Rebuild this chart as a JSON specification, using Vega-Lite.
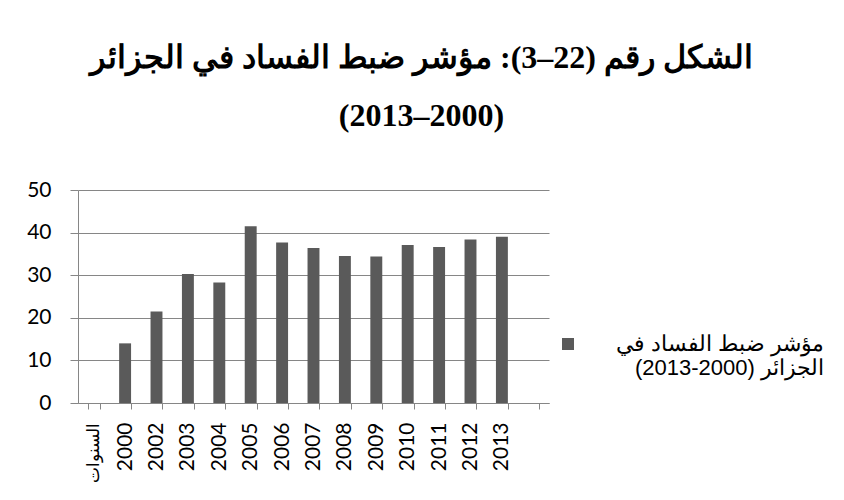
{
  "$schema": "https://vega.github.io/schema/vega-lite/v6.json",
  "width": 471,
  "height": 213,
  "autosize": {"type": "none"},
  "padding": {"left": 78, "top": 190, "right": 295, "bottom": 97},
  "background": "white",
  "title": {
    "text": ["\u202bالشكل رقم (22–3): مؤشر ضبط الفساد في الجزائر\u202c", "\u202b(2000–2013)\u202c"],
    "anchor": "middle",
    "frame": "group",
    "dx": 108,
    "font": "Liberation Serif",
    "fontSize": 32,
    "fontWeight": "bold",
    "lineHeight": 58,
    "offset": 46,
    "color": "#000000"
  },
  "data": {
    "values": [
      {"year": "2000", "value": 14.0, "series": "مؤشر ضبط الفساد في الجزائر (2000-2013)"},
      {"year": "2002", "value": 21.5, "series": "مؤشر ضبط الفساد في الجزائر (2000-2013)"},
      {"year": "2003", "value": 30.3, "series": "مؤشر ضبط الفساد في الجزائر (2000-2013)"},
      {"year": "2004", "value": 28.3, "series": "مؤشر ضبط الفساد في الجزائر (2000-2013)"},
      {"year": "2005", "value": 41.5, "series": "مؤشر ضبط الفساد في الجزائر (2000-2013)"},
      {"year": "2006", "value": 37.7, "series": "مؤشر ضبط الفساد في الجزائر (2000-2013)"},
      {"year": "2007", "value": 36.4, "series": "مؤشر ضبط الفساد في الجزائر (2000-2013)"},
      {"year": "2008", "value": 34.5, "series": "مؤشر ضبط الفساد في الجزائر (2000-2013)"},
      {"year": "2009", "value": 34.4, "series": "مؤشر ضبط الفساد في الجزائر (2000-2013)"},
      {"year": "2010", "value": 37.1, "series": "مؤشر ضبط الفساد في الجزائر (2000-2013)"},
      {"year": "2011", "value": 36.6, "series": "مؤشر ضبط الفساد في الجزائر (2000-2013)"},
      {"year": "2012", "value": 38.4, "series": "مؤشر ضبط الفساد في الجزائر (2000-2013)"},
      {"year": "2013", "value": 39.0, "series": "مؤشر ضبط الفساد في الجزائر (2000-2013)"}
    ]
  },
  "mark": {"type": "bar", "color": "#5a5a5a"},
  "encoding": {
    "x": {
      "field": "year",
      "type": "ordinal",
      "sort": null,
      "scale": {
        "domain": ["السنوات", "2000", "2002", "2003", "2004", "2005", "2006", "2007", "2008", "2009", "2010", "2011", "2012", "2013", " "],
        "paddingInner": 0.62,
        "paddingOuter": 0.31
      },
      "axis": {
        "title": null,
        "labelAngle": 270,
        "tickBand": "extent",
        "tickSize": 6,
        "labelPadding": 13,
        "labelFont": "Lato",
        "labelFontSize": {"condition": {"test": "datum.value === 'السنوات'", "value": 17}, "value": 21},
        "labelColor": "#000000",
        "domainColor": "#868686",
        "tickColor": "#868686",
        "grid": false
      }
    },
    "y": {
      "field": "value",
      "type": "quantitative",
      "scale": {"domain": [0, 50], "nice": false},
      "axis": {
        "title": null,
        "values": [0, 10, 20, 30, 40, 50],
        "grid": true,
        "gridColor": "#868686",
        "tickColor": "#868686",
        "domainColor": "#868686",
        "tickSize": 8,
        "labelPadding": 19,
        "labelFont": "Lato",
        "labelFontSize": 21,
        "labelColor": "#000000"
      }
    },
    "color": {
      "field": "series",
      "type": "nominal",
      "scale": {"range": ["#5a5a5a"]},
      "legend": {
        "title": null,
        "orient": "none",
        "legendX": 479,
        "legendY": 143,
        "padding": 0,
        "symbolType": "square",
        "symbolSize": 144,
        "symbolStrokeWidth": 0,
        "symbolFillColor": "#5a5a5a",
        "labelOffset": 245,
        "labelAlign": "right",
        "labelFont": "Liberation Sans",
        "labelFontSize": 22,
        "labelLineHeight": 27,
        "labelBaseline": "middle",
        "labelColor": "#000000",
        "labelLimit": 400,
        "labelExpr": "['\u202b' + slice(datum.label, 0, 18) + '\u202c', '\u202b' + slice(datum.label, 19) + '\u202c']"
      }
    }
  },
  "config": {
    "view": {"stroke": null}
  }
}
